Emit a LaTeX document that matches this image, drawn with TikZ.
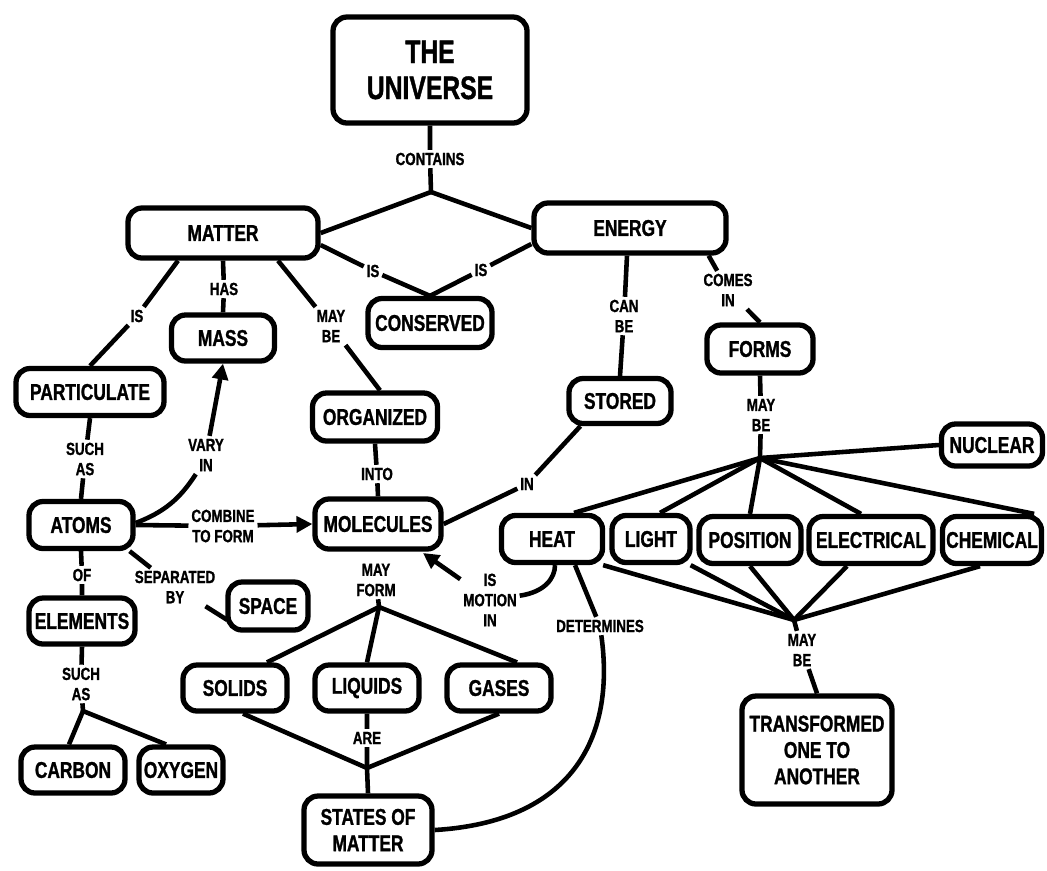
\documentclass[tikz,border=0pt]{standalone}
\usepackage{fontspec}
\newfontfamily\cf{Liberation Sans Bold}[FakeStretch=0.76,FakeBold=1.2]
\usetikzlibrary{arrows.meta,calc}
\newcommand\pxu{0.02cm}
\newcommand\nodefont{\cf\fontsize{13}{15}\selectfont}
\newcommand\labfont{\cf\fontsize{10}{11.5}\selectfont}
\newcommand\unifont{\cf\fontsize{18.5}{20.5}\selectfont}
\begin{document}
\begin{tikzpicture}[x=0.02cm,y=-0.02cm,
  box/.style={draw, line width=3pt, rounded corners=8pt, font=\nodefont, inner sep=0pt, align=center},
  bw/.style={minimum width=#1*\pxu},
  bh/.style={minimum height=#1*\pxu},
  lab/.style={font=\labfont, inner sep=1.5pt, align=center},
  conn/.style={line width=2.6pt},
  tip/.style={-{Triangle[length=9pt,width=9pt]}}
]
\fill[white] (0,0) rectangle (1047,870);
\useasboundingbox (0,0) rectangle (1047,870);

% ---- boxes
\node[box,bw=194,bh=106,font=\unifont] (univ) at (430,70) {THE\\UNIVERSE};
\node[box,bw=190,bh=50] (matter) at (223,233) {MATTER};
\node[box,bw=192,bh=50] (energy) at (630,228) {ENERGY};
\node[box,bw=124,bh=49] (conserved) at (430,323) {CONSERVED};
\node[box,bw=103,bh=46] (mass) at (223,338) {MASS};
\node[box,bw=148,bh=47] (partic) at (90,392) {PARTICULATE};
\node[box,bw=125,bh=48] (organized) at (375,417) {ORGANIZED};
\node[box,bw=102,bh=45] (stored) at (620,401) {STORED};
\node[box,bw=106,bh=48] (forms) at (760,349) {FORMS};
\node[box,bw=101,bh=42] (nuclear) at (992,445) {NUCLEAR};
\node[box,bw=101,bh=47] (heat) at (552,539) {HEAT};
\node[box,bw=78,bh=47] (light) at (651,539) {LIGHT};
\node[box,bw=102,bh=47] (position) at (750,540) {POSITION};
\node[box,bw=124,bh=47] (electrical) at (871,540) {ELECTRICAL};
\node[box,bw=99,bh=47] (chemical) at (992,540) {CHEMICAL};
\node[box,bw=150,bh=108] (transf) at (817,750) {TRANSFORMED\\ONE TO\\ANOTHER};
\node[box,bw=104,bh=47] (atoms) at (81,525) {ATOMS};
\node[box,bw=106,bh=46] (elements) at (82,621) {ELEMENTS};
\node[box,bw=104,bh=46] (carbon) at (73,770) {CARBON};
\node[box,bw=84,bh=46] (oxygen) at (181,770) {OXYGEN};
\node[box,bw=80,bh=48] (space) at (268,606) {SPACE};
\node[box,bw=126,bh=50] (molecules) at (378,524) {MOLECULES};
\node[box,bw=104,bh=46] (solids) at (235,688) {SOLIDS};
\node[box,bw=104,bh=46] (liquids) at (367,688) {LIQUIDS};
\node[box,bw=104,bh=46] (gases) at (499,688) {GASES};
\node[box,bw=128,bh=68] (states) at (368,830) {STATES OF\\MATTER};

% ---- labels
\node[lab] (contains) at (430,159) {CONTAINS};
\node[lab] (is1) at (373,271) {IS};
\node[lab] (is2) at (481,270) {IS};
\node[lab] (has) at (224,289) {HAS};
\node[lab] (is3) at (137,316) {IS};
\node[lab] (maybe1) at (331,326) {MAY\\BE};
\node[lab] (canbe) at (624,316) {CAN\\BE};
\node[lab] (comesin) at (728,290) {COMES\\IN};
\node[lab] (maybe2) at (761,415) {MAY\\BE};
\node[lab] (maybe3) at (802,650) {MAY\\BE};
\node[lab] (suchas1) at (85,459) {SUCH\\AS};
\node[lab] (varyin) at (206,455) {VARY\\IN};
\node[lab] (into) at (377,474) {INTO};
\node[lab] (in1) at (527,484) {IN};
\node[lab] (combine) at (223,526) {COMBINE\\TO FORM};
\node[lab] (of) at (82,575) {OF};
\node[lab] (separated) at (175,587) {SEPARATED\\BY};
\node[lab] (mayform) at (376,580) {MAY\\FORM};
\node[lab] (ismotion) at (490,600) {IS\\MOTION\\IN};
\node[lab] (determines) at (600,626) {DETERMINES};
\node[lab] (suchas2) at (81,684) {SUCH\\AS};
\node[lab] (are) at (367,738) {ARE};

% ---- junctions
\coordinate (J1) at (431,192);
\coordinate (J2) at (760,458);
\coordinate (J3) at (794,620);
\coordinate (J4) at (83,711);
\coordinate (J5) at (379,607);
\coordinate (J6) at (367,768);

% ---- connectors
\begin{scope}[conn]
\draw (univ.south) -- (contains) -- (J1);
\draw (J1) -- (matter.east);
\draw (J1) -- (energy.west);
\draw ($(matter.east)+(0,12)$) -- (is1) -- (conserved.north);
\draw ($(energy.west)+(0,16)$) -- (is2) -- (conserved.north);
\draw (matter.south) -- (has) -- (mass.north);
\draw ($(matter.south)+(-45,0)$) -- (is3) -- (partic.north);
\draw ($(matter.south)+(55,0)$) -- (maybe1) -- ($(organized.north)+(5,0)$);
\draw ($(energy.south)+(-3,0)$) -- (canbe) -- (stored.north);
\draw ($(energy.south east)+(-20,0)$) -- (comesin) -- (forms.north);
\draw (forms.south) -- (maybe2) -- (J2);
\draw (J2) -- (nuclear.west);
\draw (J2) -- ($(heat.north)+(22,0)$);
\draw (J2) -- ($(light.north)+(9,0)$);
\draw (J2) -- (position.north);
\draw (J2) -- ($(electrical.north)+(-10,0)$);
\draw (J2) -- ($(chemical.north east)+(-10,0)$);
\draw ($(heat.south east)+(-2,0)$) -- (J3);
\draw ($(light.south east)+(-2,0)$) -- (J3);
\draw (position.south) -- (J3);
\draw ($(electrical.south)+(-24,0)$) -- (J3);
\draw ($(chemical.south)+(-12,0)$) -- (J3);
\draw (J3) -- (maybe3) -- (transf.north);
\draw (partic.south) -- (suchas1) -- (atoms.north);
\draw (atoms.south) -- (of) -- (elements.north);
\draw (elements.south) -- (suchas2) -- (J4);
\draw (J4) -- ($(carbon.north)+(-4,0)$);
\draw (J4) -- ($(oxygen.north)+(-15,0)$);
\draw ($(atoms.east)+(0,-2)$) to[bend right=18] (varyin);
\draw[tip] (varyin) -- (mass.south);
\draw[tip] (atoms.east) -- (combine) -- (molecules.west);
\draw ($(atoms.south east)+(-6,0)$) -- (separated) -- ($(space.west)+(2,14)$);
\draw (organized.south) -- (into) -- (molecules.north);
\draw ($(stored.south west)+(14,0)$) -- (in1) -- (molecules.east);
\draw (mayform) -- (J5);
\draw (J5) -- ($(solids.north)+(32,0)$);
\draw (J5) -- (liquids.north);
\draw (J5) -- ($(gases.north)+(18,0)$);
\draw ($(solids.south)+(8,0)$) -- (J6);
\draw (gases.south) -- (J6);
\draw (liquids.south) -- (are) -- (J6) -- (states.north);
\draw[tip] (ismotion) -- (423,553);
\draw (ismotion) .. controls (545,592) and (555,578) .. ($(heat.south)+(3,0)$);
\draw ($(heat.south)+(23,0)$) -- (determines);
\draw (determines) .. controls (616,740) and (570,822) .. (states.east);
\end{scope}
\end{tikzpicture}
\end{document}
